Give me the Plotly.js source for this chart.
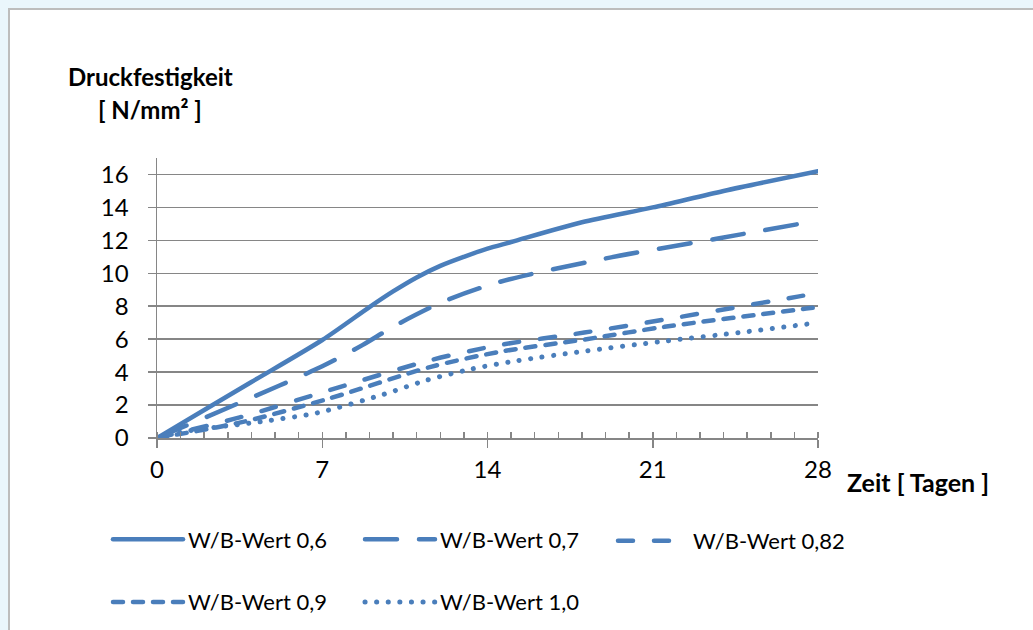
<!DOCTYPE html>
<html><head><meta charset="utf-8">
<script src="https://cdn.plot.ly/plotly-3.0.1.min.js"></script>
<style>
html,body{margin:0;padding:0;background:#EAF6FC;width:1033px;height:630px;overflow:hidden;}
#box{position:absolute;left:8px;top:8px;width:1100px;height:700px;background:#fff;border-left:2px solid #BDBDBD;border-top:2px solid #BDBDBD;}
#chart{position:absolute;left:0;top:0;width:1033px;height:630px;}
.js-line{stroke-linecap:round;}
.legendlines path.js-line{d:path("M5,0h70");}
</style></head>
<body>
<div id="box"></div>
<div id="chart"></div>
<script>
// Data
const seriesNames = ["W/B-Wert 0,6","W/B-Wert 0,7","W/B-Wert 0,82","W/B-Wert 0,9","W/B-Wert 1,0"];
const days06 = [0, 2, 4, 7, 9, 10, 11, 12, 13, 14, 15, 18, 21, 24, 28];
const vals06 = [0, 1.7, 3.4, 5.95, 7.95, 8.9, 9.75, 10.45, 11.0, 11.5, 11.9, 13.1, 14.0, 15.0, 16.2];
const days07 = [0, 3.6, 7, 8.7, 10, 12.1, 14.5, 19, 23.7, 28];
const vals07 = [0, 2.2, 4.35, 5.64, 6.75, 8.26, 9.47, 10.9, 12.1, 13.2];
const days082 = [0, 3.5, 7.3, 11.6, 14.5, 18.1, 21.5, 27.2, 28];
const vals082 = [0, 1.25, 2.9, 4.73, 5.64, 6.4, 7.19, 8.6, 8.8];
const days09 = [0, 3.5, 7.3, 11.6, 14.5, 18.1, 21.5, 27.5, 28];
const vals09 = [0, 0.93, 2.4, 4.32, 5.23, 5.98, 6.75, 7.86, 7.95];
const days10 = [0, 1.1, 4.4, 6.8, 9.6, 11.4, 13.3, 15.2, 18.1, 21.5, 24.9, 28];
const vals10 = [0, 0.38, 0.99, 1.53, 2.65, 3.5, 4.18, 4.68, 5.27, 5.88, 6.44, 7.0];
const xTicks = [0, 7, 14, 21, 28];
const yTicks = [0, 2, 4, 6, 8, 10, 12, 14, 16];

const blue = "#4A7EBB";
const FONT = "Lato, 'Open Sans', sans-serif";
function tr(x, y, name, dash, legend, grp, w) {
  return {x: x, y: y, name: name, type: "scatter", mode: "lines",
    line: {color: blue, width: w || 4.5, dash: dash, shape: "spline", smoothing: 0.8},
    legend: legend, legendgroup: grp, hoverinfo: "skip"};
}
const data = [
  tr(days06, vals06, seriesNames[0], "solid", "legend", "a"),
  tr(days09, vals09, seriesNames[3], "10px,10px", "legend", "b"),
  tr(days07, vals07, seriesNames[1], "32px,22px", "legend2", "c"),
  tr(days10, vals10, seriesNames[4], "0.1px,11.5px", "legend2", "d", 5),
  tr(days082, vals082, seriesNames[2], "15px,21px", "legend3", "e")
];
const axisCol = "#868686";
const legBase = {orientation: "v", xref: "container", yref: "container", xanchor: "left", yanchor: "middle",
  bgcolor: "rgba(0,0,0,0)", font: {family: FONT, size: 22, color: "#000"}, tracegroupgap: 31, itemwidth: 70};
const layout = {
  width: 1033, height: 630,
  paper_bgcolor: "rgba(0,0,0,0)", plot_bgcolor: "rgba(0,0,0,0)",
  margin: {l: 157, r: 215, t: 158, b: 192, autoexpand: false},
  font: {family: FONT, size: 22, color: "#000"},
  xaxis: {range: [0, 28], tickvals: xTicks, ticktext: xTicks.map(String), ticks: "outside", ticklen: 8,
    tickcolor: axisCol, tickwidth: 1.5, showline: true, linecolor: axisCol, linewidth: 1.5,
    showgrid: false, zeroline: false, ticklabelstandoff: 2, automargin: false, tickfont: {size: 24},
    minor: {dtick: 1, tick0: 0, ticks: "inside", ticklen: 6, tickcolor: axisCol, tickwidth: 1.5, showgrid: false}},
  xaxis2: {overlaying: "x", range: [0, 28], tickvals: xTicks, ticks: "inside", ticklen: 8, tickcolor: axisCol,
    tickwidth: 1.5, showticklabels: false, showline: false, showgrid: false, zeroline: false, side: "bottom", automargin: false},
  yaxis: {range: [0, 17], tickvals: yTicks, ticktext: yTicks.map(String), ticks: "outside", ticklen: 8,
    tickcolor: axisCol, tickwidth: 1.5, showline: true, linecolor: axisCol, linewidth: 1.5, tickfont: {size: 24},
    showgrid: true, gridcolor: axisCol, gridwidth: 1.5, zeroline: false, ticklabelstandoff: 14, automargin: false},
  showlegend: true,
  legend: Object.assign({}, legBase, {x: 108/1033, y: 1 - 571/630}),
  legend2: Object.assign({}, legBase, {x: 360/1033, y: 1 - 571/630}),
  legend3: Object.assign({}, legBase, {x: 613/1033, y: 1 - 541/630}),
  annotations: [
    {xref: "paper", yref: "paper", x: -7/661, y: 1 + (158-77)/280, text: "<b>Druckfestigkeit</b>", showarrow: false,
      xanchor: "center", yanchor: "middle", font: {family: FONT, size: 24, color: "#000"}},
    {xref: "paper", yref: "paper", x: -7/661, y: 1 + (158-110)/280, text: "<b>[ N/mm² ]</b>", showarrow: false,
      xanchor: "center", yanchor: "middle", font: {family: FONT, size: 24, color: "#000"}},
    {xref: "paper", yref: "paper", x: (845-157)/661, y: -(482-438)/280, text: "<b>Zeit [ Tagen ]</b>", showarrow: false,
      xanchor: "left", yanchor: "middle", font: {family: FONT, size: 25, color: "#000"}}
  ]
};
Plotly.newPlot("chart", data, layout, {staticPlot: true, displayModeBar: false});
</script>
</body></html>
